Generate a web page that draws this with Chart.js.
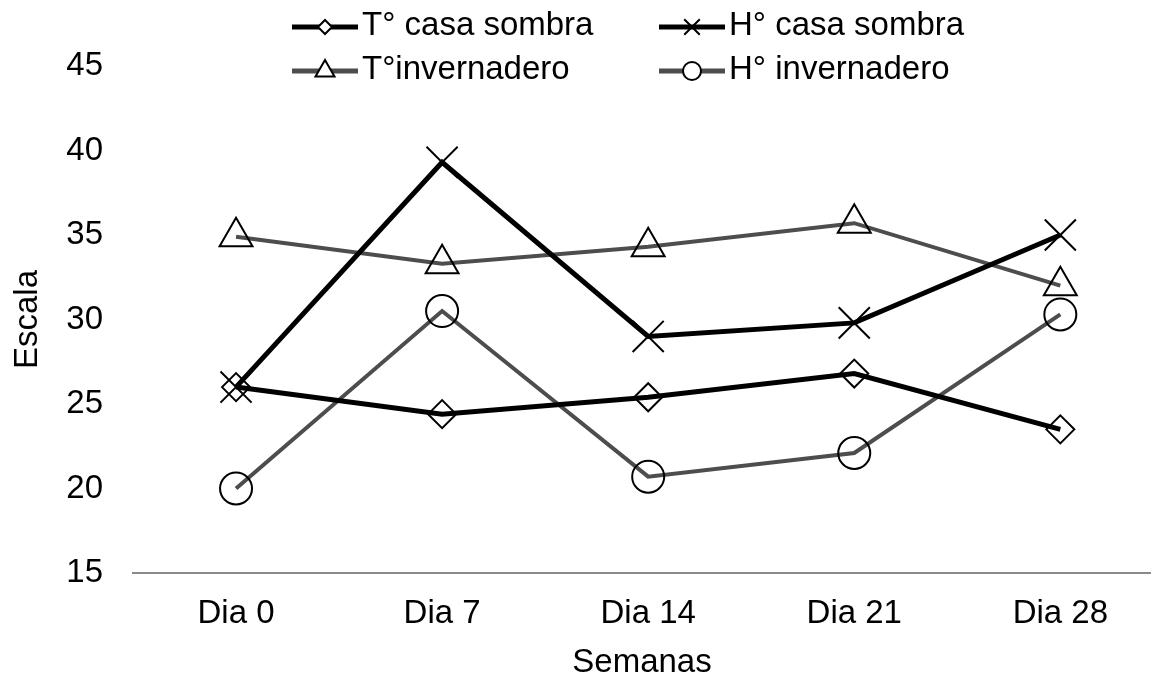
<!DOCTYPE html>
<html>
<head>
  <title>Escala por semanas</title>
  <script src="https://cdn.jsdelivr.net/npm/chart.js"></script>
  <style>
    body {
      margin: 0;
      background: #fff;
      overflow: hidden;
    }
  </style>
</head>
<body>
  <canvas id="escalaChart" width="1151" height="679"></canvas>

  <script>
    const dias = ['Dia 0', 'Dia 7', 'Dia 14', 'Dia 21', 'Dia 28'];
    const tCasaSombra = [26.0, 24.4, 25.4, 26.8, 23.5];
    const hCasaSombra = [26.0, 39.3, 29.0, 29.8, 35.0];
    const tInvernadero = [34.9, 33.3, 34.3, 35.7, 32.0];
    const hInvernadero = [20.0, 30.5, 20.7, 22.1, 30.3];

    const fontFamily = '"Liberation Sans", Arial, sans-serif';
    Chart.defaults.font.family = fontFamily;
    Chart.defaults.font.size = 33;
    Chart.defaults.color = '#000';

    function serie(label, values, color, width, style, radius, legendRadius) {
      return {
        label: label,
        // x is the index of the day (linear axis so the plot can run past the right edge)
        data: values.map((v, i) => ({ x: i, y: v })),
        borderColor: color,
        borderWidth: width,
        backgroundColor: 'rgba(0,0,0,0)',
        pointStyle: style,
        pointRadius: radius,
        pointHoverRadius: radius,
        pointBorderColor: '#000',
        pointBackgroundColor: 'rgba(0,0,0,0)',
        pointBorderWidth: 2,
        legendRadius: legendRadius,
        tension: 0,
        clip: false
      };
    }

    // legend drawn in two rows like the original figure
    const legendPlugin = {
      id: 'twoRowLegend',
      afterDraw(chart) {
        const ctx = chart.ctx;
        const cols = [292, 659];
        const rows = [27, 71];
        chart.data.datasets.forEach((ds, i) => {
          const x = cols[i % 2];
          const y = rows[Math.floor(i / 2)];
          ctx.save();
          ctx.strokeStyle = ds.borderColor;
          ctx.lineWidth = 5;
          ctx.beginPath();
          ctx.moveTo(x, y);
          ctx.lineTo(x + 66, y);
          ctx.stroke();
          ctx.fillStyle = '#fff';
          ctx.strokeStyle = '#000';
          ctx.lineWidth = 2;
          Chart.helpers.drawPoint(ctx, {
            pointStyle: ds.pointStyle,
            radius: ds.legendRadius,
            rotation: 0,
            borderWidth: 2
          }, x + 33, y);
          ctx.fillStyle = '#000';
          ctx.font = '33px ' + fontFamily;
          ctx.textBaseline = 'middle';
          ctx.textAlign = 'left';
          ctx.fillText(ds.label, x + 70, y - 1);
          ctx.restore();
        });
      }
    };

    const ctx = document.getElementById('escalaChart').getContext('2d');
    const chart = new Chart(ctx, {
      type: 'line',
      data: {
        datasets: [
          serie('T° casa sombra', tCasaSombra, '#000', 5, 'rectRot', 14, 7),
          serie('H° casa sombra', hCasaSombra, '#000', 5, 'crossRot', 22, 11),
          serie('T°invernadero', tInvernadero, '#4d4d4d', 4, 'triangle', 19, 11),
          serie('H° invernadero', hInvernadero, '#4d4d4d', 4, 'circle', 16, 9)
        ]
      },
      options: {
        responsive: false,
        animation: false,
        layout: {
          autoPadding: false,
          padding: { top: 66, right: 0, bottom: 0, left: 0 }
        },
        plugins: {
          legend: { display: false },
          tooltip: { enabled: false }
        },
        scales: {
          x: {
            type: 'linear',
            min: -0.5,
            max: 4.44,
            grid: { display: false, drawTicks: false },
            border: { display: true, color: '#8a8a8a', width: 2 },
            ticks: {
              padding: 21,
              callback: (value) => dias[value]
            },
            afterBuildTicks(scale) {
              scale.ticks = dias.map((d, i) => ({ value: i }));
            },
            title: {
              display: true,
              text: 'Semanas',
              font: { size: 33, lineHeight: 1.0 },
              padding: { top: 0, bottom: 0 }
            },
            afterFit(scale) {
              scale.height = 106;
              scale.paddingLeft = 0;
              scale.paddingRight = 0;
            }
          },
          y: {
            min: 15,
            max: 45,
            grid: { display: false, drawTicks: false },
            border: { display: false },
            ticks: { stepSize: 5, padding: 30 },
            title: {
              display: true,
              text: 'Escala',
              font: { size: 33 },
              padding: { top: 8, bottom: 0 }
            },
            afterFit(scale) { scale.width = 133; }
          }
        }
      },
      plugins: [legendPlugin]
    });
  </script>
</body>
</html>
